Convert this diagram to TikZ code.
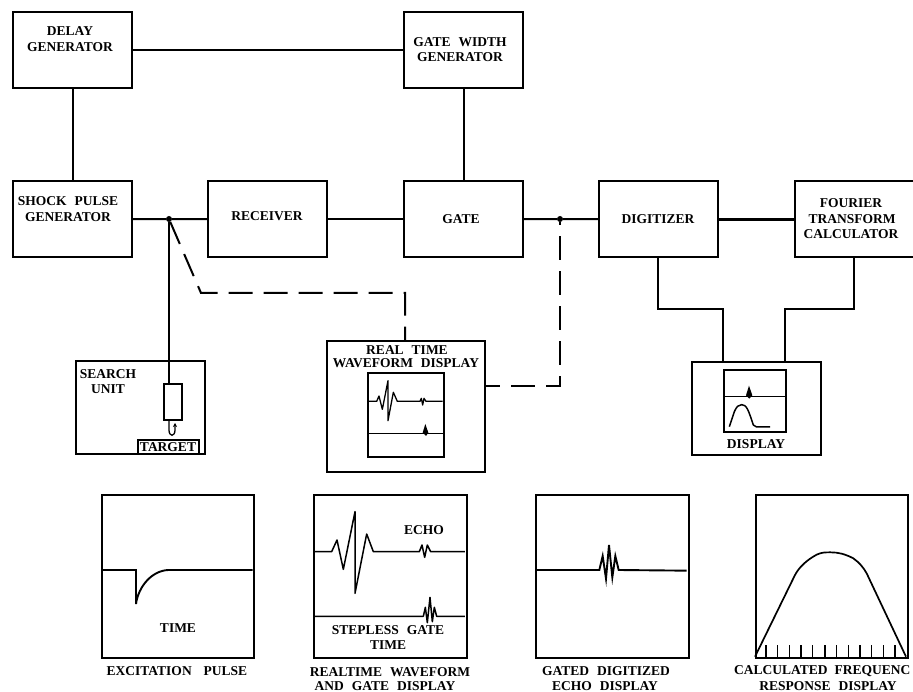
\documentclass[tikz,border=0pt]{standalone}
\usepackage{fontspec}
\setmainfont{Liberation Serif}
\usetikzlibrary{arrows.meta}
\newcommand{\gp}{\hspace{8pt}}
\tikzset{
  blockbox/.style={draw=black,line width=2pt,fill=none,minimum width=119pt,minimum height=76.5pt,anchor=north west,inner sep=0pt},
  framebox/.style={draw=black,line width=2pt,minimum width=#1,anchor=north west,inner sep=0pt},
  inbox/.style={draw=black,line width=1.6pt,anchor=north west,inner sep=0pt},
  txt/.style={font=\fontsize{13.5}{14}\selectfont\bfseries,inner sep=0pt,anchor=center,text=black},
  conn/.style={line width=2pt,line join=miter},
  dashconn/.style={line width=2pt,dash pattern=on 24pt off 11pt,line join=miter},
  junction/.style={circle,fill=black,draw=none,minimum size=6pt,inner sep=0pt},
  wave/.style={line width=1.5pt,line join=round},
  thinwave/.style={line width=1.3pt,line join=round}
}
\begin{document}
\begin{tikzpicture}[x=1pt,y=-1pt]
\useasboundingbox (0,0) rectangle (913,692);
\fill[white] (0,0) rectangle (913,692);
% blocks
\node[blockbox] (delay) at (12,11) {};
\node[blockbox] (gw) at (403,11) {};
\node[blockbox] (shock) at (12,180) {};
\node[blockbox] (recv) at (207,180) {};
\node[blockbox] (gate) at (403,180) {};
\node[blockbox] (digit) at (598,180) {};
\node[blockbox] (fourier) at (794,180) {};
% block text
\node[txt] (t1) at (70,31) {DELAY};
\node[txt] (t2) at (70,47) {GENERATOR};
\node[txt] (t3) at (68,201) {SHOCK\gp PULSE};
\node[txt] (t4) at (68,217) {GENERATOR};
\node[txt] (t5) at (267,216) {RECEIVER};
\node[txt] (t6) at (460,42) {GATE\gp WIDTH};
\node[txt] (t7) at (460,57) {GENERATOR};
\node[txt] (t8) at (461,219) {GATE};
\node[txt] (t9) at (658,219) {DIGITIZER};
\node[txt] (t10) at (851,203) {FOURIER};
\node[txt] (t11) at (852,219) {TRANSFORM};
\node[txt] (t12) at (851,234) {CALCULATOR};
% display frames
\node[framebox=129pt,minimum height=93pt] (search) at (75,360) {};
\node[framebox=158pt,minimum height=131pt] (rt) at (326,340) {};
\node[framebox=129pt,minimum height=93pt] (disp) at (691,361) {};
\node[inbox,minimum width=76pt,minimum height=84pt] (rtin) at (367,372) {};
\node[inbox,minimum width=62pt,minimum height=62pt] (dispin) at (723,369) {};
\node[inbox,minimum width=18pt,minimum height=36pt] (probe) at (163,383) {};
\node[inbox,minimum width=61pt,minimum height=14pt] (target) at (137,439) {};
\node[txt] (t13) at (108,374) {SEARCH};
\node[txt] (t14) at (108,389) {UNIT};
\node[txt] (t15) at (168,447) {TARGET};
\node[txt] (t16) at (407,350) {REAL\gp TIME};
\node[txt] (t17) at (406,363) {WAVEFORM\gp DISPLAY};
\node[txt] (t18) at (756,444) {DISPLAY};
% junctions
\node[junction] (j1) at (169,219) {};
\node[junction] (j2) at (560,219) {};
\coordinate (d1) at (201,293);
\coordinate (d2) at (405,293);
\coordinate (d3) at (560,386);
\coordinate (c1) at (658,309);
\coordinate (c2) at (723,309);
\coordinate (c3) at (854,309);
\coordinate (c4) at (785,309);
% connectors
\draw[conn] (delay) -- (gw);
\draw[conn] (delay) -- (shock);
\draw[conn] (gw) -- (gate);
\draw[conn] (shock.east) -- (j1) -- (recv.west);
\draw[conn] (recv) -- (gate);
\draw[conn] (gate.east) -- (j2) -- (digit.west);
\draw[line width=2.6pt] (digit) -- (fourier);
\draw[conn] (j1) -- (j1 |- probe.north);
\draw[conn] (digit.south -| c1) -- (c1) -- (c2) -- (c2 |- disp.north);
\draw[conn] (fourier.south -| c3) -- (c3) -- (c4) -- (c4 |- disp.north);
\draw[dashconn] (j1) -- (d1) -- (d2) -- (d2 |- rt.north);
\draw[dashconn,dash phase=10pt] (rt.east |- d3) -- (d3) -- (j2);
% hook
\draw[line width=1.3pt,-{Stealth[length=4pt,width=4pt]}] (169,420) -- (169,430) .. controls (169,437) and (175,437) .. (175,430) -- (175,423);
% small waveforms
\begin{scope}[shift={(320pt,-300pt)},x=0.33333pt,y=-0.33333pt]
\draw[thinwave] (145,304) -- (170,304) -- (177,288) -- (187,328) -- (204,242) -- (204,362) -- (220,277) -- (232,304) -- (300,304) -- (304,295) -- (308,315) -- (312,295) -- (318,304) -- (368,304);
\draw[thinwave] (145,400) -- (368,400);
\fill (316,372) -- (325,398) -- (318,408) -- (308,398) -- cycle;
\end{scope}
\begin{scope}[shift={(640pt,-290pt)},x=0.33333pt,y=-0.33333pt]
\draw[thinwave] (250,319) -- (436,319);
\fill (327,287) -- (337,316) -- (328,326) -- (318,316) -- cycle;
\draw[wave] (268,410) -- (283,365) .. controls (290,350) and (295,344) .. (305,344) .. controls (320,344) and (325,360) .. (340,405) -- (350,411) -- (390,411);
\end{scope}
% bottom panels
\node[framebox=152pt,minimum height=163pt] (p1) at (101,494) {};
\node[framebox=153pt,minimum height=163pt] (p2) at (313,494) {};
\node[framebox=153pt,minimum height=163pt] (p3) at (535,494) {};
\node[framebox=152pt,minimum height=163pt] (p4) at (755,494) {};
\begin{scope}[shift={(90pt,-480pt)},x=0.33333pt,y=-0.33333pt]
\draw[line width=1.9pt] (35,270) -- (138,270) -- (138,372) .. controls (145,320) and (185,272) .. (235,270) -- (488,270);
\draw[wave] (675,215) -- (725,215) -- (741,180) -- (760,268) -- (795,95) -- (795,340) -- (830,162) -- (850,215) -- (988,215) -- (996,195) -- (1004,232) -- (1012,195) -- (1022,215) -- (1125,215);
\draw[wave] (675,409) -- (1000,409) -- (1006,382) -- (1012,428) -- (1020,352) -- (1027,425) -- (1033,382) -- (1040,409) -- (1125,409);
\end{scope}
\begin{scope}[shift={(520pt,-480pt)},x=0.33333pt,y=-0.33333pt]
\draw[line width=1.9pt] (48,270) -- (238,270) -- (248,228) -- (258,296) -- (267,195) -- (277,292) -- (286,228) -- (296,270) -- (500,272);
\draw[line width=1.7pt] (705,530) -- (825,285) .. controls (837,262) and (860,240) .. (890,224) .. controls (905,217) and (915,217) .. (932,217) .. controls (955,217) and (975,222) .. (1000,235) .. controls (1018,248) and (1030,262) .. (1040,280) -- (1158,530);
\foreach \tx in {738,773,808,843,878,915,950,985,1020,1055,1090,1125}
  \draw[line width=1.6pt] (\tx,530) -- (\tx,495);
\end{scope}
\node[txt] (t19) at (178,628) {TIME};
\node[txt] (t20) at (424,530) {ECHO};
\node[txt] (t21) at (388,630) {STEPLESS\gp GATE};
\node[txt] (t22) at (388,645) {TIME};
\node[txt] (t23) at (177,671) {EXCITATION\hspace{12pt}PULSE};
\node[txt] (t24) at (390,672) {REALTIME\gp WAVEFORM};
\node[txt] (t25) at (385,686) {AND\gp GATE\gp DISPLAY};
\node[txt] (t26) at (606,671) {GATED\gp DIGITIZED};
\node[txt] (t27) at (605,686) {ECHO\gp DISPLAY};
\node[txt,anchor=west] (t28) at (734,671) {CALCULATED\hspace{7pt}FREQUENC};
\node[txt] (t29) at (828,686) {RESPONSE\gp DISPLAY};
\end{tikzpicture}
\end{document}
